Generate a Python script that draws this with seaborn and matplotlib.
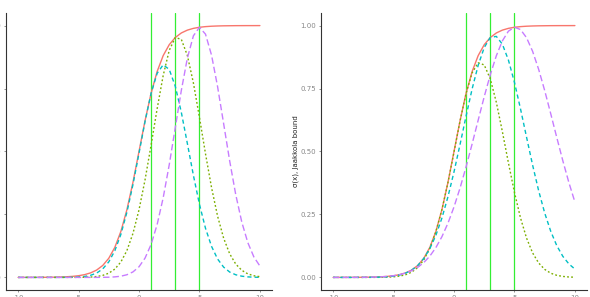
import numpy as np
import pandas as pd
import matplotlib
matplotlib.use("Agg")
import matplotlib.pyplot as plt
import seaborn as sns

# x grid shared by every curve
x_vals = [-10, -9.5, -9, -8.5, -8, -7.5, -7, -6.5, -6, -5.5,
          -5, -4.5, -4, -3.5, -3, -2.5, -2, -1.5, -1, -0.5,
          0,
          0.5, 1, 1.5, 2, 2.5, 3, 3.5, 4, 4.5, 5,
          5.5, 6, 6.5, 7, 7.5, 8, 8.5, 9, 9.5, 10]

sigmoid = [0.0000, 0.0001, 0.0001, 0.0002, 0.0003, 0.0006, 0.0009, 0.0015, 0.0025, 0.0041,
           0.0067, 0.0110, 0.0180, 0.0293, 0.0474, 0.0759, 0.1192, 0.1824, 0.2689, 0.3775,
           0.5000,
           0.6225, 0.7311, 0.8176, 0.8808, 0.9241, 0.9526, 0.9707, 0.9820, 0.9890, 0.9933,
           0.9959, 0.9975, 0.9985, 0.9991, 0.9994, 0.9997, 0.9998, 0.9999, 0.9999, 1.0000]

# left panel: quadratic (fixed curvature) bound, xi = 1, 3, 5
bohning_xi1 = [0, 0, 0, 0, 0, 0, 0, 0.0001, 0.0002, 0.0006,
               0.0016, 0.0038, 0.0084, 0.0173, 0.0337, 0.0617, 0.1059, 0.1708, 0.2589, 0.3686,
               0.4931,
               0.6194, 0.7311, 0.8105, 0.8442, 0.8260, 0.7593, 0.6557, 0.5318, 0.4052, 0.2901,
               0.1951, 0.1232, 0.0731, 0.0408, 0.0213, 0.0105, 0.0049, 0.0021, 0.0009, 0.0003]
bohning_xi3 = [0, 0, 0, 0, 0, 0, 0, 0, 0, 0.0001,
               0.0002, 0.0006, 0.0015, 0.0036, 0.0080, 0.0167, 0.0330, 0.0612, 0.1066, 0.1745,
               0.2682,
               0.3874, 0.5254, 0.6697, 0.8017, 0.9016, 0.9526, 0.9454, 0.8814, 0.7720, 0.6353,
               0.4910, 0.3565, 0.2432, 0.1558, 0.0938, 0.0531, 0.0282, 0.0141, 0.0066, 0.0029]
bohning_xi5 = [0, 0, 0, 0, 0, 0, 0, 0, 0, 0,
               0, 0, 0, 0.0001, 0.0003, 0.0008, 0.0021, 0.0048, 0.0106, 0.0218,
               0.0422,
               0.0767, 0.1309, 0.2099, 0.3161, 0.4472, 0.5945, 0.7423, 0.8708, 0.9595, 0.9933,
               0.9660, 0.8825, 0.7573, 0.6106, 0.4625, 0.3290, 0.2199, 0.1381, 0.0814, 0.0451]

# right panel: Jaakkola bound, xi = 1, 3, 5
jaakkola_xi1 = [0, 0, 0, 0, 0, 0, 0.0001, 0.0001, 0.0004, 0.0010,
                0.0023, 0.0051, 0.0106, 0.0210, 0.0393, 0.0693, 0.1153, 0.1813, 0.2689, 0.3766,
                0.4977,
                0.6209, 0.7311, 0.8124, 0.8523, 0.8438, 0.7886, 0.6956, 0.5791, 0.4551, 0.3376,
                0.2363, 0.1562, 0.0974, 0.0573, 0.0319, 0.0167, 0.0083, 0.0039, 0.0017, 0.0007]
jaakkola_xi3 = [0, 0, 0, 0, 0.0001, 0.0001, 0.0003, 0.0007, 0.0014, 0.0027,
                0.0052, 0.0096, 0.0170, 0.0289, 0.0474, 0.0750, 0.1140, 0.1671, 0.2357, 0.3203,
                0.4191,
                0.5280, 0.6408, 0.7487, 0.8425, 0.9129, 0.9526, 0.9572, 0.9263, 0.8632, 0.7746,
                0.6694, 0.5570, 0.4464, 0.3445, 0.2560, 0.1832, 0.1262, 0.0838, 0.0536, 0.0330]
jaakkola_xi5 = [0, 0, 0.0001, 0.0001, 0.0002, 0.0004, 0.0008, 0.0014, 0.0024, 0.0040,
                0.0067, 0.0109, 0.0172, 0.0266, 0.0401, 0.0589, 0.0845, 0.1183, 0.1616, 0.2153,
                0.2799,
                0.3550, 0.4392, 0.5303, 0.6245, 0.7177, 0.8046, 0.8801, 0.9392, 0.9779, 0.9933,
                0.9844, 0.9519, 0.8980, 0.8265, 0.7422, 0.6501, 0.5557, 0.4634, 0.3770, 0.2992]

xi_values = [1, 3, 5]
x_ticks = [-10, -5, 0, 5, 10]
x_tick_labels = ['-10', '-5', '0', '5', '10']
y_ticks = [0, 0.25, 0.5, 0.75, 1.0]
y_tick_labels = ['0.00', '0.25', '0.50', '0.75', '1.00']

RED, OLIVE, CYAN, PURPLE = '#F8766D', '#7CAE00', '#00BFC4', '#C77CFF'
DOT, DASH, LONGDASH = (0, (1.3, 1.6)), (0, (3.0, 2.2)), (0, (4.6, 2.2))

sns.set_theme(style="white")
plt.rcParams['font.family'] = ['DejaVu Sans']

fig = plt.figure(figsize=(5.9, 2.97), dpi=100)
ax_left = fig.add_axes([6 / 590, 7 / 297, 266 / 590, 277 / 297])
ax_right = fig.add_axes([321 / 590, 7 / 297, 266 / 590, 277 / 297])

left_curves = [(sigmoid, RED, '-'), (bohning_xi1, CYAN, DASH),
               (bohning_xi3, OLIVE, DOT), (bohning_xi5, PURPLE, LONGDASH)]
right_curves = [(sigmoid, RED, '-'), (jaakkola_xi1, OLIVE, DOT),
                (jaakkola_xi3, CYAN, DASH), (jaakkola_xi5, PURPLE, LONGDASH)]

for ax, curves in [(ax_left, left_curves), (ax_right, right_curves)]:
    for vals, col, ls in curves:
        df = pd.DataFrame({'x': x_vals, 'y': vals})
        sns.lineplot(data=df, x='x', y='y', ax=ax, color=col, linestyle=ls,
                     linewidth=1.0, dash_capstyle='butt')
    for xi in xi_values:
        ax.axvline(xi, color='#33EE33', linewidth=0.9, zorder=0)

    ax.set_xlim(-11, 11)
    ax.set_ylim(-0.05, 1.05)
    ax.set_xticks(x_ticks)
    ax.set_xticklabels(x_tick_labels)
    ax.set_yticks(y_ticks)
    ax.set_yticklabels(y_tick_labels)
    ax.set_xlabel('')
    ax.set_ylabel('')
    ax.grid(False)
    for side in ['top', 'right']:
        ax.spines[side].set_visible(False)
    for side in ['left', 'bottom']:
        ax.spines[side].set_color('#333333')
        ax.spines[side].set_linewidth(0.8)
    ax.tick_params(axis='both', which='both', length=1.6, width=0.5,
                   color='#666666', labelsize=5, labelcolor='#888888', pad=2,
                   left=True, bottom=True)

ax_right.set_ylabel('σ(x), Jaakkola bound', fontsize=5, color='#222222', labelpad=1)

fig.savefig('out.png', dpi=100)
